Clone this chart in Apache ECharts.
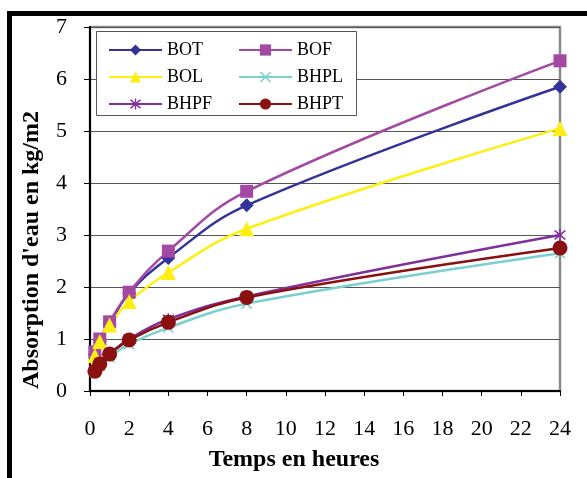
<!DOCTYPE html>
<html>
<head>
<meta charset="utf-8">
<script src="https://cdn.jsdelivr.net/npm/echarts@6/dist/echarts.min.js"></script>
<style>
  html, body { margin: 0; padding: 0; background: #fff; }
  #chart { width: 587px; height: 478px; }
</style>
</head>
<body>
<div id="chart"></div>
<script>
// temps en heures
var hours = [0.25, 0.5, 1, 2, 4, 8, 24];
// absorption d'eau (kg/m2)
var BOT  = [0.70, 0.95, 1.29, 1.88, 2.56, 3.57, 5.85];
var BOF  = [0.75, 1.00, 1.33, 1.90, 2.69, 3.84, 6.35];
var BOL  = [0.68, 0.95, 1.27, 1.72, 2.28, 3.12, 5.05];
var BHPL = [0.36, 0.48, 0.65, 0.90, 1.22, 1.68, 2.65];
var BHPF = [0.40, 0.55, 0.72, 1.00, 1.38, 1.82, 3.00];
var BHPT = [0.38, 0.52, 0.71, 0.98, 1.32, 1.80, 2.75];

var xTicks = [0, 2, 4, 6, 8, 10, 12, 14, 16, 18, 20, 22, 24];
var yTicks = [0, 1, 2, 3, 4, 5, 6, 7];

var serif = '"Liberation Serif", "Times New Roman", serif';

function pairs(vals) {
    var out = [];
    for (var i = 0; i < hours.length; i++) {
        out.push([hours[i], vals[i]]);
    }
    return out;
}

// symboles en croix / etoile
var crossPath = 'path://M0,1 L1,0 L5,4 L9,0 L10,1 L6,5 L10,9 L9,10 L5,6 L1,10 L0,9 L4,5 Z';
var starPath = 'path://M0,1 L1,0 L5,4 L9,0 L10,1 L6,5 L10,9 L9,10 L5,6 L1,10 L0,9 L4,5 Z M4.4,-1 L5.6,-1 L5.6,11 L4.4,11 Z';

function line(name, vals, color, symbol, size) {
    return {
        name: name,
        type: 'line',
        data: pairs(vals),
        smooth: 0.4,
        symbol: symbol,
        symbolSize: size,
        showAllSymbol: true,
        lineStyle: { color: color, width: 2.5 },
        itemStyle: { color: color },
        emphasis: { disabled: true }
    };
}

var chart = echarts.init(document.getElementById('chart'));

var legendText = { fontFamily: serif, fontSize: 18, color: '#000' };

var option = {
    animation: false,
    backgroundColor: '#fff',
    grid: {
        left: 90, right: 27, top: 27, bottom: 87,
        show: true,
        borderColor: '#8a8a8a',
        borderWidth: 2.5
    },
    legend: [{
        left: 108, top: 41, padding: 0,
        orient: 'vertical',
        itemWidth: 53, itemHeight: 14, itemGap: 9,
        data: ['BOT', 'BOL', 'BHPF'],
        textStyle: legendText
    }, {
        left: 238, top: 41, padding: 0,
        orient: 'vertical',
        itemWidth: 53, itemHeight: 14, itemGap: 9,
        data: ['BOF', 'BHPL', 'BHPT'],
        textStyle: legendText
    }],
    xAxis: {
        type: 'value',
        min: 0, max: 24, interval: 2,
        axisLine: { lineStyle: { color: '#000', width: 2 } },
        axisTick: { length: 5, lineStyle: { color: '#000' } },
        axisLabel: {
            margin: 27, fontFamily: serif, fontSize: 22, color: '#000',
            formatter: function (v) { return xTicks.indexOf(v) >= 0 ? String(v) : ''; }
        },
        splitLine: { show: false }
    },
    yAxis: {
        type: 'value',
        min: 0, max: 7, interval: 1,
        axisLine: { show: true, lineStyle: { color: '#000', width: 2 } },
        axisTick: { show: true, length: 6, lineStyle: { color: '#000' } },
        axisLabel: {
            margin: 23, fontFamily: serif, fontSize: 22, color: '#000',
            formatter: function (v) { return yTicks.indexOf(v) >= 0 ? String(v) : ''; }
        },
        splitLine: { lineStyle: { color: '#555', width: 1 } }
    },
    graphic: [
        {
            type: 'rect',
            shape: { x: 9.5, y: 13.5, width: 620, height: 520 },
            style: { fill: 'none', stroke: '#000', lineWidth: 5 },
            z: 10
        },
        {
            type: 'rect',
            shape: { x: 96.5, y: 31.5, width: 260, height: 84 },
            style: { fill: '#fff', stroke: '#555', lineWidth: 1 },
            z: 3
        },
        {
            type: 'text',
            x: 32, y: 250,
            rotation: Math.PI / 2,
            style: {
                text: "Absorption d'eau en kg/m2",
                font: 'bold 24px ' + serif,
                fill: '#000',
                align: 'center',
                verticalAlign: 'middle'
            },
            z: 10
        },
        {
            type: 'text',
            x: 294, y: 460,
            style: {
                text: 'Temps en heures',
                font: 'bold 24px ' + serif,
                fill: '#000',
                align: 'center',
                verticalAlign: 'middle'
            },
            z: 10
        }
    ],
    series: [
        line('BOT', BOT, '#333399', 'diamond', 14),
        line('BOF', BOF, '#A349A4', 'rect', 13),
        line('BOL', BOL, '#FFEE11', 'triangle', 15),
        line('BHPL', BHPL, '#7ACFCF', crossPath, 11),
        line('BHPF', BHPF, '#7F309A', starPath, 12),
        line('BHPT', BHPT, '#8B1010', 'circle', 15)
    ]
};

chart.setOption(option);
</script>
</body>
</html>
